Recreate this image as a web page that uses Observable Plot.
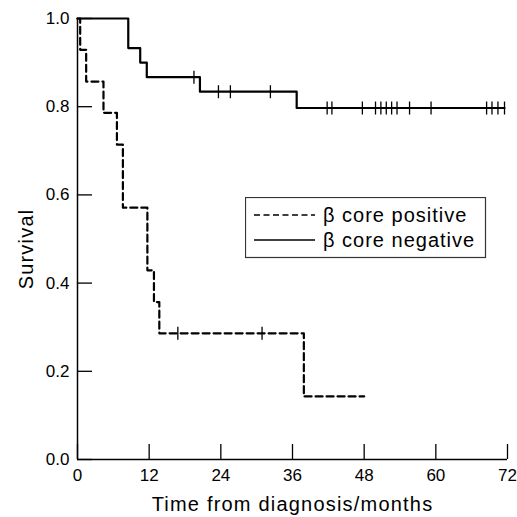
<!DOCTYPE html>
<html>
<head>
<meta charset="utf-8">
<script src="https://cdn.jsdelivr.net/npm/d3@7"></script>
<script src="https://cdn.jsdelivr.net/npm/@observablehq/plot@0.6"></script>
<style>
  html, body { margin: 0; padding: 0; background: white; }
  #wrap { position: relative; width: 517px; height: 517px; }
  #legend { position: absolute; left: 245px; top: 197px; }
</style>
</head>
<body>
<div id="wrap"></div>
<script>
// Kaplan–Meier step data
const negTimes = [0, 8.5, 10.5, 11.6, 20.5, 36.7, 71.5];
const negSurv  = [1, 0.933, 0.9, 0.867, 0.834, 0.797, 0.797];
const negCensor = [19.5, 23.6, 25.6, 32.3, 41.8, 42.6, 47.7, 49.9, 50.8, 51.7, 52.6, 53.5, 55.6, 59.2, 68.5, 69.4, 70.4, 71.5];

const posTimes = [0, 0.45, 1.45, 4.35, 6.6, 7.6, 11.7, 12.8, 13.7, 37.9, 48];
const posSurv  = [1, 0.929, 0.857, 0.786, 0.714, 0.571, 0.429, 0.357, 0.286, 0.143, 0.143];
const posCensor = [16.8, 30.9];

const xTicks = [0, 12, 24, 36, 48, 60, 72];
const yTicks = [0, 0.2, 0.4, 0.6, 0.8, 1.0];
const legendLabels = ["\u03b2 core positive", "\u03b2 core negative"];
const xLabel = "Time from diagnosis/months";
const yLabel = "Survival";

const neg = negTimes.map((t, i) => ({t, s: negSurv[i]}));
const pos = posTimes.map((t, i) => ({t, s: posSurv[i]}));
function survAt(times, surv, t) {
  let s = surv[0];
  for (let i = 0; i < times.length; i++) if (times[i] <= t) s = surv[i];
  return s;
}
const negC = negCensor.map(t => ({t, s: survAt(negTimes, negSurv, t)}));
const posC = posCensor.map(t => ({t, s: survAt(posTimes, posSurv, t)}));

const vbar = { draw(ctx) { ctx.moveTo(0, -6.5); ctx.lineTo(0, 6.5); } };

const font = "'Liberation Sans', Arial, Helvetica, sans-serif";

const chart = Plot.plot({
  width: 517,
  height: 517,
  marginLeft: 77,
  marginRight: 10,
  marginTop: 18,
  marginBottom: 58,
  style: { fontFamily: font, fontSize: "17px", color: "black", background: "white", overflow: "visible" },
  x: { domain: [0, 72] },
  y: { domain: [0, 1] },
  marks: [
    // inward tick marks
    Plot.axisX({ ticks: xTicks, text: null, tickSize: 15, dy: -15, strokeWidth: 1.3, label: null }),
    Plot.axisY({ ticks: yTicks, text: null, tickSize: 15, dx: 15, strokeWidth: 1.3, label: null }),
    // tick labels
    Plot.axisX({ ticks: xTicks, tickSize: 0, tickPadding: 9, label: null, fontSize: 17 }),
    Plot.axisY({ ticks: yTicks, tickSize: 0, tickPadding: 8, tickFormat: d3.format(".1f"), label: null, fontSize: 17 }),
    // axis lines
    Plot.ruleX([0], { strokeWidth: 1.5 }),
    Plot.ruleY([0], { strokeWidth: 1.5 }),
    // curves
    Plot.line(pos, { x: "t", y: "s", curve: "step-after", stroke: "black", strokeWidth: 2.2, strokeDasharray: "7,4" }),
    Plot.line(neg, { x: "t", y: "s", curve: "step-after", stroke: "black", strokeWidth: 2.2 }),
    // censor marks
    Plot.dot(negC, { x: "t", y: "s", symbol: vbar, stroke: "black", strokeWidth: 1.3, fill: "none" }),
    Plot.dot(posC, { x: "t", y: "s", symbol: vbar, stroke: "black", strokeWidth: 1.3, fill: "none" }),
    // axis titles
    Plot.text([xLabel], { frameAnchor: "bottom", textAnchor: "middle", lineAnchor: "middle", dy: 45, fontSize: 20 }),
    Plot.text([yLabel], { frameAnchor: "left", textAnchor: "middle", lineAnchor: "middle", rotate: -90, dx: -51, dy: 10, fontSize: 20 })
  ]
});
chart.querySelectorAll("text").forEach(t => {
  if (t.textContent === xLabel || t.textContent === yLabel) t.style.letterSpacing = "1.2px";
});
document.getElementById("wrap").appendChild(chart);

// legend box
const lg = d3.select("#wrap").append("svg")
  .attr("id", "legend")
  .attr("width", 242).attr("height", 62)
  .style("font-family", font);
lg.append("rect").attr("x", 0.5).attr("y", 0.5).attr("width", 240).attr("height", 60)
  .attr("fill", "white").attr("stroke", "#333").attr("stroke-width", 1.2);
const rows = [{dash: "6,3.5"}, {dash: null}];
rows.forEach((r, i) => {
  const cy = 18 + i * 25;
  const ln = lg.append("line").attr("x1", 9).attr("x2", 70).attr("y1", cy).attr("y2", cy)
    .attr("stroke", "black").attr("stroke-width", 1.6);
  if (r.dash) ln.attr("stroke-dasharray", r.dash);
  lg.append("text").attr("x", 78).attr("y", cy).attr("dy", "0.35em")
    .attr("font-size", 20).style("letter-spacing", "1px").text(legendLabels[i]);
});
</script>
</body>
</html>
